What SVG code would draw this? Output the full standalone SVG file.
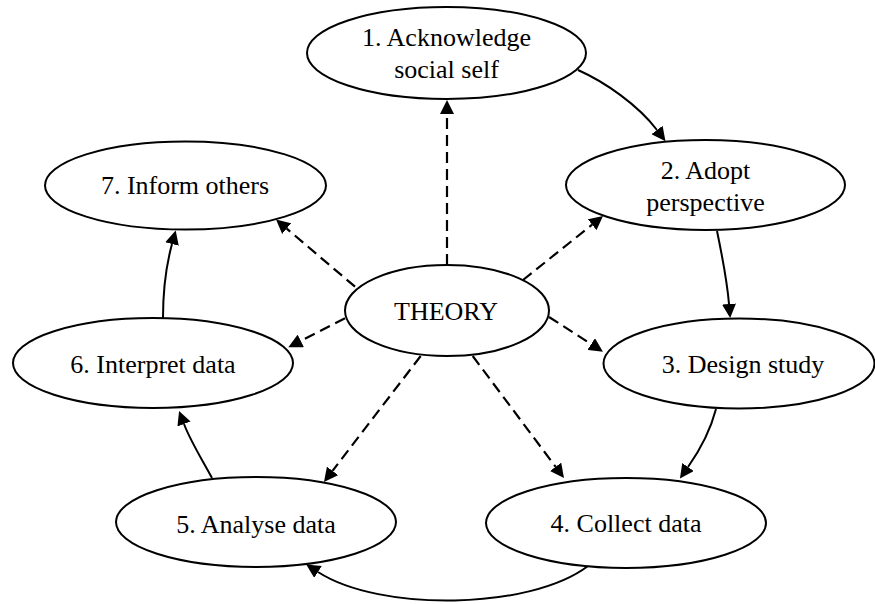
<svg xmlns="http://www.w3.org/2000/svg" width="875" height="604" viewBox="0 0 875 604">
<style>
.node ellipse { fill: #ffffff; stroke: #000000; stroke-width: 2; }
.node text { font-family: "Liberation Serif", "Times New Roman", serif; font-size: 26px; fill: #000000; text-anchor: middle; }
.edge { fill: none; stroke: #000000; stroke-width: 2; }
.dashed { stroke-dasharray: 11,6; stroke-width: 2.2; }
</style>
<defs>
<marker id="ah" viewBox="0 0 14 14" refX="0" refY="7" markerWidth="14" markerHeight="14" markerUnits="userSpaceOnUse" orient="auto">
<path d="M0,0 L14,7 L0,14 z" fill="#000000"/>
</marker>
</defs>
<rect width="875" height="604" fill="#ffffff"/>
<g id="connectors">
<path class="edge" d="M578,70 C605,82 638,105 657,130" marker-end="url(#ah)"/>
<path class="edge" d="M717,231 C722,255 727,280 729,304" marker-end="url(#ah)"/>
<path class="edge" d="M716,409 C710,432 700,450 688,467" marker-end="url(#ah)"/>
<path class="edge" d="M588,566 C530,610 380,612 318,572" marker-end="url(#ah)"/>
<path class="edge" d="M212,478 C200,456 190,440 184,424" marker-end="url(#ah)"/>
<path class="edge" d="M163,318 C163,292 166,266 172,244" marker-end="url(#ah)"/>
<path class="edge dashed" d="M447,265 L447,114" marker-end="url(#ah)"/>
<path class="edge dashed" d="M523,280 L592.1,224.7" marker-end="url(#ah)"/>
<path class="edge dashed" d="M549,317 L591.2,344.1" marker-end="url(#ah)"/>
<path class="edge dashed" d="M472.7,356 L555.6,466.8" marker-end="url(#ah)"/>
<path class="edge dashed" d="M420.7,356 L332.5,470.9" marker-end="url(#ah)"/>
<path class="edge dashed" d="M345,318.3 L300.8,340.9" marker-end="url(#ah)"/>
<path class="edge dashed" d="M355,286.7 L286.7,228.6" marker-end="url(#ah)"/>
</g>
<g id="node1" class="node">
<ellipse cx="446.5" cy="53" rx="139.5" ry="46"/>
<text x="446.5" y="46">1. Acknowledge</text>
<text x="446.5" y="78">social self</text>
</g>
<g id="node2" class="node">
<ellipse cx="705.5" cy="185" rx="139.5" ry="45"/>
<text x="705.5" y="179">2. Adopt</text>
<text x="705.5" y="211">perspective</text>
</g>
<g id="node3" class="node">
<ellipse cx="739" cy="363.5" rx="135.5" ry="45"/>
<text x="743" y="373">3. Design study</text>
</g>
<g id="node4" class="node">
<ellipse cx="626" cy="523" rx="140" ry="45"/>
<text x="626" y="532">4. Collect data</text>
</g>
<g id="node5" class="node">
<ellipse cx="256" cy="522" rx="140" ry="45"/>
<text x="256" y="533">5. Analyse data</text>
</g>
<g id="node6" class="node">
<ellipse cx="153" cy="363" rx="140" ry="45"/>
<text x="153" y="373">6. Interpret data</text>
</g>
<g id="node7" class="node">
<ellipse cx="185.5" cy="185.5" rx="140.5" ry="44"/>
<text x="185" y="194">7. Inform others</text>
</g>
<g id="theory" class="node">
<ellipse cx="447" cy="310.5" rx="102" ry="45.5"/>
<text x="446" y="320">THEORY</text>
</g>
</svg>
